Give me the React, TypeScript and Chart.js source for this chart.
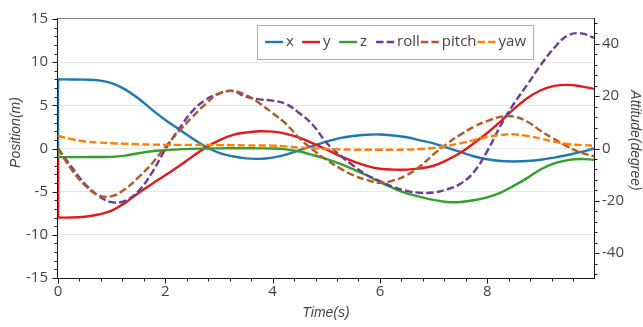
import React, { useEffect, useRef } from 'react';
import { Chart, registerables } from 'chart.js';

Chart.register(...registerables);

// ---- data ----
const time = [0, 0.25, 0.5, 0.75, 1, 1.25, 1.5, 1.75, 2, 2.25, 2.5, 2.75, 3, 3.25, 3.5, 3.75, 4, 4.25, 4.5, 4.75, 5, 5.25, 5.5, 5.75, 6, 6.25, 6.5, 6.75, 7, 7.25, 7.5, 7.75, 8, 8.25, 8.5, 8.75, 9, 9.25, 9.5, 9.75, 9.99];

// position (m) — each trace jumps from this value at t = 0 to its first sample
const positionStart = 0;
const posX = [8, 8, 7.98, 7.9, 7.58, 6.85, 5.8, 4.5, 3.3, 2.25, 1.2, 0.2, -0.5, -0.9, -1.15, -1.2, -1.05, -0.7, -0.2, 0.3, 0.8, 1.2, 1.45, 1.6, 1.63, 1.5, 1.3, 0.95, 0.6, 0.1, -0.4, -0.9, -1.25, -1.45, -1.5, -1.45, -1.3, -1.05, -0.75, -0.4, 0];
const posY = [-8, -8, -7.9, -7.65, -7.2, -6.3, -5.15, -4.1, -3.1, -2.05, -0.95, 0.1, 0.95, 1.55, 1.85, 2.0, 1.95, 1.7, 1.25, 0.6, -0.1, -0.85, -1.5, -2.0, -2.35, -2.45, -2.45, -2.3, -2.0, -1.35, -0.5, 0.6, 1.8, 3.15, 4.6, 5.85, 6.75, 7.25, 7.37, 7.2, 6.9];
const posZ = [-1, -1, -1, -0.98, -0.97, -0.82, -0.55, -0.32, -0.2, -0.1, -0.04, 0, 0.02, 0.03, 0.03, 0.02, 0, -0.1, -0.35, -0.75, -1.2, -1.75, -2.4, -3.1, -3.9, -4.6, -5.2, -5.6, -5.95, -6.2, -6.2, -6.0, -5.65, -5.1, -4.3, -3.4, -2.4, -1.72, -1.35, -1.22, -1.3];

// attitude (degree)
const roll = [0, -7, -13.5, -18, -20.5, -20, -16.3, -9.3, -0.3, 7.3, 14.2, 18.6, 21, 22, 19.8, 18.8, 18.3, 17, 13.5, 9, 2.3, -2.5, -6.5, -10, -12.5, -14.7, -16.2, -16.9, -16.8, -15.6, -13.5, -9, -1.0, 8.8, 17.2, 24.5, 32, 38.5, 43.2, 44, 42.3];
const pitch = [0, -8, -14, -17.8, -18.2, -15.5, -11, -5.8, 0.6, 6.5, 12, 17, 21, 22, 20.5, 17.4, 13.5, 9.4, 3.9, -0.5, -4.3, -7.5, -10.2, -12, -13.1, -12.2, -10.2, -6.8, -2.2, 1.8, 5.3, 8.3, 10.5, 12.1, 12.2, 10.2, 6.7, 3.6, 0.7, -1.6, -3];
const yaw = [4.8, 3.6, 2.7, 2.3, 2.0, 1.8, 1.6, 1.5, 1.4, 1.4, 1.4, 1.35, 1.3, 1.25, 1.2, 1.15, 1.1, 0.8, 0.4, 0.1, -0.2, -0.35, -0.45, -0.5, -0.5, -0.5, -0.45, -0.2, 0.2, 1.0, 2.0, 3.2, 4.4, 5.2, 5.4, 4.8, 3.8, 2.6, 1.7, 1.3, 1.1];

const seriesNames = ['x', 'y', 'z', 'roll', 'pitch', 'yaw'];
const seriesValues = [posX, posY, posZ, roll, pitch, yaw];
const seriesAxis = ['y', 'y', 'y', 'y1', 'y1', 'y1'];
const seriesColors = ['#1f78b4', '#e31a1c', '#33a02c', '#6a3d9a', '#b15928', '#ff7f00'];
const seriesDashed = [false, false, false, true, true, true];
const seriesJump = [true, true, true, false, false, false];

const xTickValues = [0, 2, 4, 6, 8];
const rightTickValues = [-40, -20, 0, 20, 40];
const xRange = [0, 9.99];
const leftRange = [-15, 15];
const rightRange = [-49.5, 49.5];

const xTitle = 'Time(s)';
const leftTitle = 'Position(m)';
const rightTitle = 'Attitude(degree)';

const FONT = '"Open Sans", "DejaVu Sans", sans-serif';
const TITLE_FONT = 'italic 14px "Liberation Sans", Arial, sans-serif';
const DASH = [7.4, 3.2];
const TEXT_COLOR = '#444444';
const LINE_W = 2.4;

const decorPlugin = {
  id: 'decor',
  beforeDatasetsDraw(chart: any) {
    const { ctx, chartArea } = chart;
    const { left, right, top, bottom } = chartArea;
    const xs = chart.scales.x;
    const yl = chart.scales.y;
    const yr = chart.scales.y1;
    ctx.save();
    ctx.lineWidth = 1;
    ctx.strokeStyle = '#808080';
    ctx.beginPath();
    ctx.moveTo(left - 1, top - 0.5);
    ctx.lineTo(right + 1, top - 0.5);
    ctx.stroke();
    ctx.strokeStyle = '#1a1a1a';
    ctx.beginPath();
    ctx.moveTo(left - 0.5, top - 1);
    ctx.lineTo(left - 0.5, bottom + 1);
    ctx.moveTo(left - 1, bottom + 0.5);
    ctx.lineTo(right + 1, bottom + 0.5);
    ctx.moveTo(right + 0.5, top - 1);
    ctx.lineTo(right + 0.5, bottom + 1);
    for (let v = leftRange[0]; v <= leftRange[1]; v += 1) {
      const y = Math.round(yl.getPixelForValue(v)) + 0.5;
      const len = v % 5 === 0 ? 5 : 3;
      ctx.moveTo(left - 0.5, y);
      ctx.lineTo(left - 0.5 - len, y);
    }
    for (let v = -48; v <= 48; v += 4) {
      const y = Math.round(yr.getPixelForValue(v)) + 0.5;
      const len = v % 20 === 0 ? 5 : 3;
      ctx.moveTo(right + 0.5, y);
      ctx.lineTo(right + 0.5 + len, y);
    }
    for (let i = 0; i * 0.4 <= xRange[1] + 1e-9; i++) {
      const x = Math.round(xs.getPixelForValue(i * 0.4)) + 0.5;
      const len = i % 5 === 0 ? 5 : 3;
      ctx.moveTo(x, bottom + 0.5);
      ctx.lineTo(x, bottom + 0.5 + len);
    }
    ctx.stroke();
    ctx.restore();
  },
  afterDraw(chart: any) {
    const { ctx, chartArea } = chart;
    const { left, right, top, bottom } = chartArea;
    ctx.save();
    ctx.font = TITLE_FONT;
    ctx.fillStyle = TEXT_COLOR;
    ctx.textAlign = 'center';
    ctx.textBaseline = 'middle';
    ctx.fillText(xTitle, (left + right) / 2, bottom + 35);
    ctx.save();
    ctx.translate(16, (top + bottom) / 2 - 16);
    ctx.rotate(-Math.PI / 2);
    ctx.fillText(leftTitle, 0, 0);
    ctx.restore();
    ctx.save();
    ctx.translate(right + 41, (top + bottom) / 2 - 8);
    ctx.rotate(Math.PI / 2);
    ctx.fillText(rightTitle, 0, 0);
    ctx.restore();

    // legend
    ctx.font = '15px ' + FONT;
    const lineLen = 18;
    const legendSets = chart.data.datasets.filter((ds: any) => !ds.isJump);
    const items = legendSets.map((ds: any) => {
      const w = ctx.measureText(ds.label).width;
      return { ds, itemW: Math.max(37, lineLen + 3 + w + 1) };
    });
    const total = items.reduce((s: number, it: any) => s + it.itemW, 0);
    const boxRight = right - 61;
    const boxLeft = boxRight - total - 14;
    const boxTop = top + 6;
    const boxH = 34;
    ctx.fillStyle = '#ffffff';
    ctx.fillRect(boxLeft, boxTop, boxRight - boxLeft, boxH);
    ctx.strokeStyle = '#b0b0b0';
    ctx.lineWidth = 1;
    ctx.strokeRect(Math.round(boxLeft) + 0.5, Math.round(boxTop) + 0.5, Math.round(boxRight - boxLeft), boxH);
    let x = boxLeft + 8;
    const cy = boxTop + boxH / 2;
    ctx.textAlign = 'left';
    ctx.textBaseline = 'middle';
    for (const it of items) {
      ctx.strokeStyle = it.ds.borderColor;
      ctx.lineWidth = LINE_W;
      ctx.setLineDash(it.ds.borderDash || []);
      ctx.beginPath();
      ctx.moveTo(x, cy);
      ctx.lineTo(x + lineLen, cy);
      ctx.stroke();
      ctx.setLineDash([]);
      ctx.fillStyle = TEXT_COLOR;
      ctx.fillText(it.ds.label, x + lineLen + 3, cy);
      x += it.itemW;
    }
    ctx.restore();
  },
};

export default function App() {
  const canvasRef = useRef<HTMLCanvasElement | null>(null);

  useEffect(() => {
    if (!canvasRef.current) return;
    Chart.defaults.font.family = FONT;
    const datasets: any[] = [];
    seriesNames.forEach((name, i) => {
      const common = {
        yAxisID: seriesAxis[i],
        borderColor: seriesColors[i],
        backgroundColor: seriesColors[i],
        borderWidth: LINE_W,
        borderDash: seriesDashed[i] ? DASH : [],
        pointRadius: 0,
        fill: false,
        order: seriesNames.length - i,
      };
      datasets.push({
        ...common,
        label: name,
        data: time.map((t, k) => ({ x: t, y: seriesValues[i][k] })),
        tension: 0.4,
      });
      if (seriesJump[i]) {
        datasets.push({
          ...common,
          label: name + ' start',
          isJump: true,
          data: [
            { x: time[0], y: positionStart },
            { x: time[0], y: seriesValues[i][0] },
          ],
          tension: 0,
        });
      }
    });
    const chart = new Chart(canvasRef.current, {
      type: 'line',
      data: { datasets },
      options: {
        animation: false,
        responsive: false,
        maintainAspectRatio: false,
        layout: { padding: { top: 16, left: 0, right: 0, bottom: 0 } },
        plugins: { legend: { display: false }, tooltip: { enabled: false } },
        scales: {
          x: {
            type: 'linear',
            min: xRange[0],
            max: xRange[1],
            afterBuildTicks: (s: any) => {
              s.ticks = xTickValues.map((v) => ({ value: v }));
            },
            afterFit: (s: any) => {
              s.height = 49;
            },
            grid: { display: false, drawTicks: false },
            border: { display: false },
            ticks: { font: { size: 15, family: FONT }, color: TEXT_COLOR, padding: 5, maxRotation: 0 },
          },
          y: {
            type: 'linear',
            position: 'left',
            min: leftRange[0],
            max: leftRange[1],
            ticks: { stepSize: 5, font: { size: 15, family: FONT }, color: TEXT_COLOR, padding: 10 },
            afterFit: (s: any) => {
              s.width = 58;
            },
            grid: {
              drawTicks: false,
              color: (c: any) => (c.tick && Math.abs(c.tick.value) === 15 ? 'rgba(0,0,0,0)' : '#e6e6e6'),
            },
            border: { display: false },
          },
          y1: {
            type: 'linear',
            position: 'right',
            min: rightRange[0],
            max: rightRange[1],
            afterBuildTicks: (s: any) => {
              s.ticks = rightTickValues.map((v) => ({ value: v }));
            },
            afterFit: (s: any) => {
              s.width = 49;
            },
            ticks: { font: { size: 15, family: FONT }, color: TEXT_COLOR, padding: 8 },
            grid: { drawOnChartArea: false, drawTicks: false },
            border: { display: false },
          },
        },
      },
      plugins: [decorPlugin],
    });
    return () => chart.destroy();
  }, []);

  return (
    <div style={{ position: 'fixed', left: 0, top: 0, width: 643, height: 327, background: '#fff' }}>
      <canvas ref={canvasRef} width={643} height={327} />
    </div>
  );
}
